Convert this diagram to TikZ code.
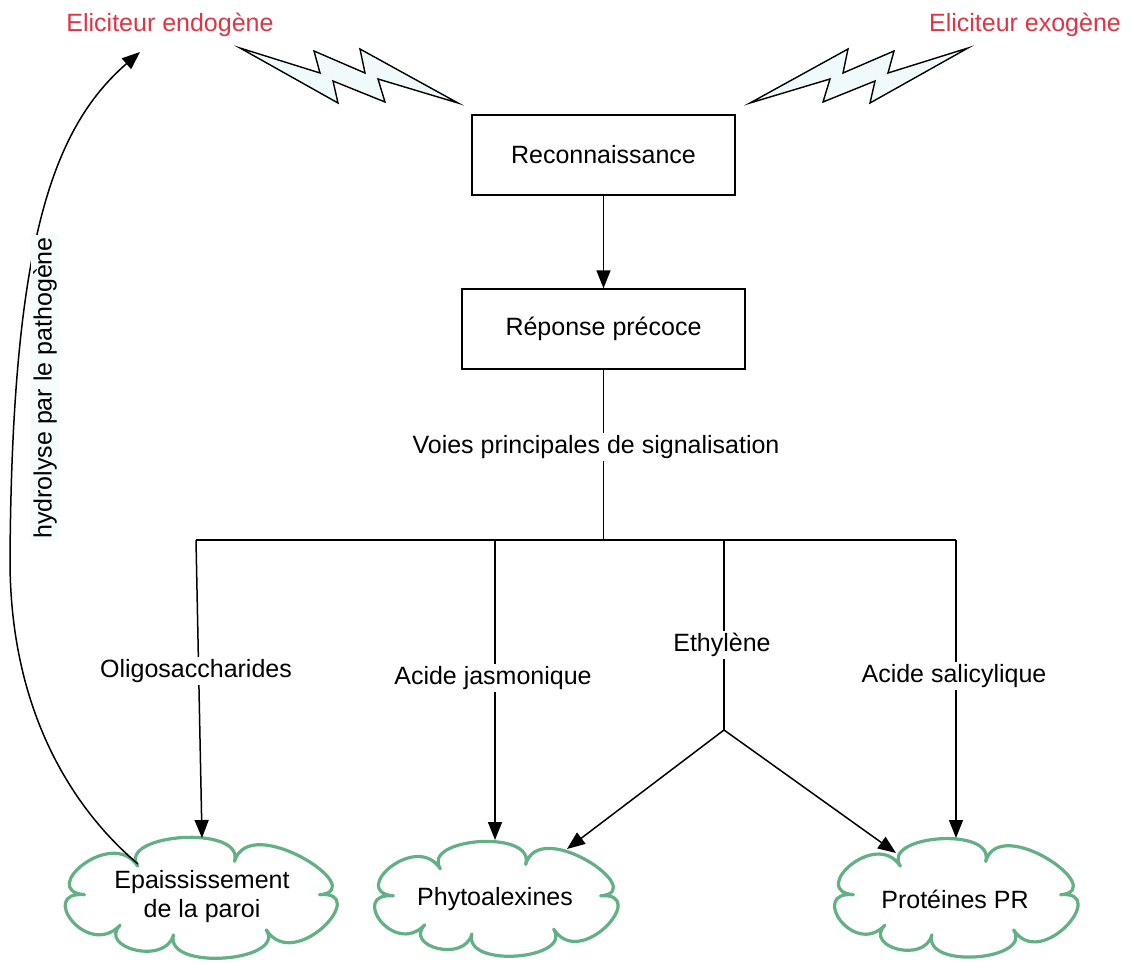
\documentclass[tikz,border=0pt]{standalone}
\usepackage{fontspec}
\setmainfont{Liberation Sans}
\usetikzlibrary{arrows.meta}
\definecolor{elired}{RGB}{222,52,68}
\definecolor{cloudgreen}{RGB}{98,176,132}
\definecolor{boltfill}{RGB}{240,250,250}
\definecolor{hydfill}{RGB}{246,252,252}
\tikzset{
  every node/.style={font=\fontsize{25}{29}\selectfont},
  box/.style={draw=black, line width=1.4pt, minimum width=263pt, minimum height=80pt, inner sep=0pt},
  wide/.style={minimum width=283pt},
  cloudline/.style={draw=cloudgreen, line width=3.2pt, fill=white, line join=round},
  cloudtext/.style={align=center, inner sep=0pt},
  lbl/.style={fill=white, inner sep=2pt},
  red label/.style={text=elired, inner sep=0pt},
  conn/.style={line width=1.5pt},
  arr/.style={conn, -{Triangle[length=18pt,width=14pt]}},
  bolt/.style={draw=black, line width=1.4pt, fill=boltfill, line join=miter},
}
% cloud outline: center x, center y, a, b (ellipse through the notches), puff scale
\newcommand{\cloudoutline}[5]{%
  \draw[cloudline] ({#1+#3*cos(5)},{#2-#4*sin(5)})
    \foreach \p/\q/\h in {5/74/50, 74/123/37, 123/175/45, 175/226/45, 226/256/30, 256/303/36, 303/365/50} {
      .. controls ({#1+#3*cos(\p)+#5*\h*cos(\p)},{#2-#4*sin(\p)-#5*\h*sin(\p)})
              and ({#1+#3*cos(\q)+#5*\h*cos(\q)},{#2-#4*sin(\q)-#5*\h*sin(\q)})
      .. ({#1+#3*cos(\q)},{#2-#4*sin(\q)})
    } -- cycle;}
\begin{document}
\begin{tikzpicture}[x=1pt,y=-1pt]
\useasboundingbox (0,0) rectangle (1133,964);
% labels top
\node[red label] (endo) at (170,25) {Eliciteur endogène};
\node[red label] (exo) at (1025,25) {Eliciteur exogène};
% lightning bolts
\draw[bolt] (240,48) -- (320,73) -- (314,51) -- (365,73) -- (360,49) -- (458,103) -- (378,79) -- (385,102) -- (333,81) -- (338,103) -- cycle;
\draw[bolt] (968,48) -- (888,73) -- (894,51) -- (843,73) -- (848,49) -- (750,103) -- (830,79) -- (823,102) -- (875,81) -- (870,103) -- cycle;
% boxes
\node[box] (rec) at (603.5,155) {Reconnaissance};
\node[box, wide] (rep) at (603.5,329) {Réponse précoce};
\draw[arr] (rec.south) -- (rep.north);
% branching
\coordinate (hub) at (603.5,540);
\coordinate (b1) at (196,540);
\coordinate (b2) at (495,540);
\coordinate (b3) at (724,540);
\coordinate (b4) at (956,540);
\coordinate (eth) at (724,730);
\draw[conn] (rep.south) -- (hub);
\draw[conn] (b1) -- (b4);
\node[lbl] (voies) at (596,447) {Voies principales de signalisation};
% clouds
\cloudoutline{202}{898}{118}{38}{1.05}
\cloudoutline{497}{899}{104}{36}{1}
\cloudoutline{957}{898}{104}{38}{1}
\node[cloudtext] (c1) at (202,897) {Epaississement\\de la paroi};
\node[cloudtext] (c2) at (495,899) {Phytoalexines};
\node[cloudtext] (c3) at (955,899) {Protéines PR};
\coordinate (t1) at (202,838);
\coordinate (t2) at (495,840);
\coordinate (t3) at (956,838);
\coordinate (t2b) at (567,849);
\coordinate (t3b) at (896,853);
\draw[arr] (b1) -- (t1);
\draw[arr] (b2) -- (t2);
\draw[arr] (b4) -- (t3);
\draw[conn] (b3) -- (eth);
\draw[arr] (eth) -- (t2b);
\draw[arr] (eth) -- (t3b);
\node[lbl] (oli) at (196,671) {Oligosaccharides};
\node[lbl] (jas) at (493,678) {Acide jasmonique};
\node[lbl] (ethl) at (722,645) {Ethylène};
\node[lbl] (sal) at (954,676) {Acide salicylique};
% hydrolyse curve
\coordinate (hs) at (138,864);
\coordinate (he) at (140,52);
\draw[arr] (hs) .. controls (80,815) and (10,720) .. (10,560) .. controls (12,250) and (50,130) .. (he);
\node[fill=hydfill, inner sep=2pt, rotate=90] (hyd) at (45,388) {hydrolyse par le pathogène};
\end{tikzpicture}
\end{document}
